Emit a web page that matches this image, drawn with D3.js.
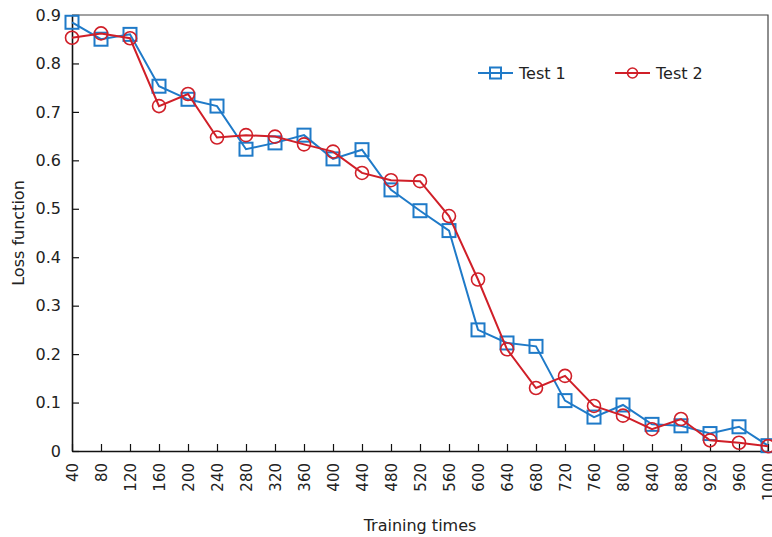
<!DOCTYPE html>
<html>
<head>
<meta charset="utf-8">
<script src="https://cdn.jsdelivr.net/npm/d3@7"></script>
<style>
  body { margin: 0; background: #fff; }
  svg text { font-family: "DejaVu Sans", Verdana, sans-serif; fill: #222; }
</style>
</head>
<body>
<div id="canvas"></div>
<script>
/*
 * Data
 *
 */
const trainingTimes = [40, 80, 120, 160, 200, 240, 280, 320, 360, 400, 440, 480, 520,
  560, 600, 640, 680, 720, 760, 800, 840, 880, 920, 960, 1000];
const test1 = [0.885, 0.85, 0.86, 0.753, 0.726, 0.712, 0.623, 0.636, 0.652, 0.603, 0.622, 0.539, 0.496,
  0.455, 0.25, 0.223, 0.216, 0.104, 0.07, 0.095, 0.055, 0.052, 0.036, 0.05, 0.011];
const test2 = [0.853, 0.862, 0.852, 0.712, 0.737, 0.647, 0.652, 0.649, 0.633, 0.618, 0.574, 0.559, 0.557,
  0.485, 0.354, 0.21, 0.13, 0.155, 0.093, 0.073, 0.045, 0.066, 0.022, 0.017, 0.01];
const yTicks = [0, 0.1, 0.2, 0.3, 0.4, 0.5, 0.6, 0.7, 0.8, 0.9];
const seriesNames = ['Test 1', 'Test 2'];
const colors = ['#1f7ac8', '#d01f28'];

const svgWidth = 772,
  svgHeight = 537;
const margin = { top: 15, right: 4, bottom: 86, left: 72 };
const width = svgWidth - margin.left - margin.right,
  height = svgHeight - margin.top - margin.bottom;

const svg = d3.select('#canvas').append('svg')
  .attr('width', svgWidth)
  .attr('height', svgHeight);

const g = svg.append('g')
  .attr('transform', `translate(${margin.left},${margin.top})`);

/*
 * Scales
 *
 */
const xScale = d3.scaleLinear()
  .domain([40, 1000])
  .range([0, width]);

const yScale = d3.scaleLinear()
  .domain([0, 0.9])
  .range([height, 0]);

// frame (top + right)
g.append('path')
  .attr('d', `M0,0H${width}V${height}`)
  .attr('fill', 'none')
  .attr('stroke', '#444')
  .attr('stroke-width', 1.2);

/*
 * Axes
 *
 */
const leftAxis = g.append('g')
  .call(d3.axisLeft(yScale)
    .tickValues(yTicks)
    .tickFormat(d => d === 0 ? '0' : d.toFixed(1))
    .tickSizeInner(-7)
    .tickSizeOuter(0)
    .tickPadding(11));

const bottomAxis = g.append('g')
  .attr('transform', `translate(0,${height})`)
  .call(d3.axisBottom(xScale)
    .tickValues(trainingTimes)
    .tickFormat(d3.format('d'))
    .tickSizeInner(-7)
    .tickSizeOuter(0));

bottomAxis.selectAll('text')
  .attr('transform', 'rotate(-90)')
  .attr('text-anchor', 'end')
  .attr('x', -12)
  .attr('y', 0)
  .attr('dy', '0.35em');

[leftAxis, bottomAxis].forEach(ax => {
  ax.select('.domain').attr('stroke', '#111').attr('stroke-width', 1.6);
  ax.selectAll('.tick line').attr('stroke', '#111').attr('stroke-width', 1.2);
  ax.selectAll('text').attr('fill', '#222');
});
leftAxis.selectAll('text').style('font-size', '16px');
bottomAxis.selectAll('text').style('font-size', '15px');

g.append('text')
  .attr('transform', `translate(${-48},${height / 2}) rotate(-90)`)
  .attr('text-anchor', 'middle')
  .style('font-size', '16px')
  .text('Loss function');

g.append('text')
  .attr('x', 348)
  .attr('y', height + 80)
  .attr('text-anchor', 'middle')
  .style('font-size', '16px')
  .text('Training times');

/*
 * Series
 *
 */
const series = [test1, test2];
const line = d3.line()
  .x((d, i) => xScale(trainingTimes[i]))
  .y(d => yScale(d));

series.forEach((values, s) => {
  const sg = g.append('g');
  sg.append('path')
    .datum(values)
    .attr('d', line)
    .attr('fill', 'none')
    .attr('stroke', colors[s])
    .attr('stroke-width', 2);

  if (s === 0) {
    sg.selectAll('rect')
      .data(values)
      .enter()
      .append('rect')
      .attr('x', (d, i) => xScale(trainingTimes[i]) - 6.5)
      .attr('y', d => yScale(d) - 6.5)
      .attr('width', 13)
      .attr('height', 13)
      .attr('fill', 'none')
      .attr('stroke', colors[s])
      .attr('stroke-width', 2);
  } else {
    sg.selectAll('circle')
      .data(values)
      .enter()
      .append('circle')
      .attr('cx', (d, i) => xScale(trainingTimes[i]))
      .attr('cy', d => yScale(d))
      .attr('r', 6.5)
      .attr('fill', 'none')
      .attr('stroke', colors[s])
      .attr('stroke-width', 1.6);
  }
});

/*
 * Legend
 *
 */
const legend = svg.append('g')
  .attr('transform', 'translate(478,73)');

seriesNames.forEach((name, s) => {
  const item = legend.append('g')
    .attr('transform', `translate(${s * 137},0)`);
  item.append('line')
    .attr('x1', 0).attr('x2', 35)
    .attr('stroke', colors[s])
    .attr('stroke-width', 2);
  if (s === 0) {
    item.append('rect')
      .attr('x', 12).attr('y', -5.5)
      .attr('width', 11).attr('height', 11)
      .attr('fill', 'none')
      .attr('stroke', colors[s])
      .attr('stroke-width', 2);
  } else {
    item.append('circle')
      .attr('cx', 17.5).attr('r', 5)
      .attr('fill', 'none')
      .attr('stroke', colors[s])
      .attr('stroke-width', 1.6);
  }
  item.append('text')
    .attr('x', 41)
    .attr('dy', '0.35em')
    .style('font-size', '16px')
    .text(name);
});
</script>
</body>
</html>
